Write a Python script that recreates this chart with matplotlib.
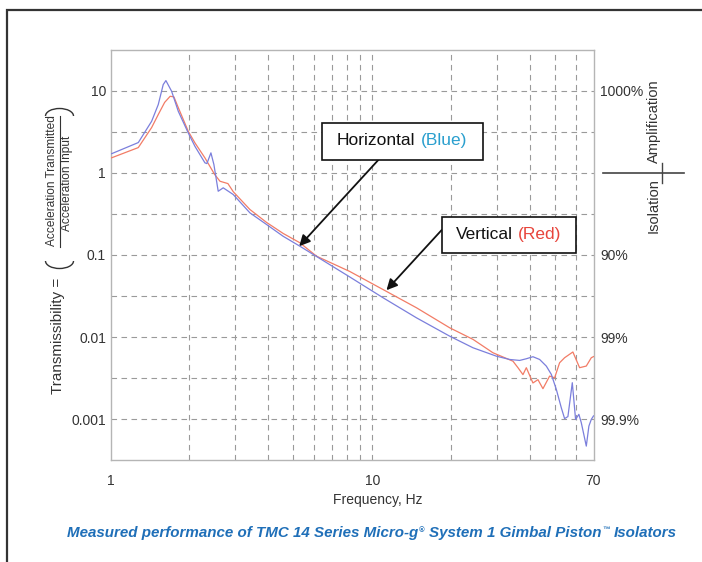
import numpy as np
import matplotlib
matplotlib.use("Agg")
import matplotlib.pyplot as plt
from matplotlib.lines import Line2D
from matplotlib.patches import Rectangle, Arc
from matplotlib.ticker import NullLocator, FixedLocator

plt.rcParams['font.family'] = ['Liberation Sans', 'DejaVu Sans']

# ---------------- data ----------------
blue_freq = [1.0, 1.013, 1.277, 1.436, 1.522, 1.590, 1.628, 1.712, 1.815, 1.981, 2.101,
             2.295, 2.335, 2.419, 2.483, 2.579, 2.695, 2.943, 3.408, 3.947, 4.566,
             5.288, 8.206, 10.99, 14.75, 19.76, 24.25, 29.79, 33.49, 36.56, 38.77,
             41.09, 43.59, 46.23, 48.31, 50.48, 52.74, 54.29, 55.89, 58.09, 59.79,
             61.55, 62.87, 65.70, 67.22, 68.65, 70.0]
blue_trans = [1.70, 1.717, 2.337, 4.244, 6.774, 11.87, 13.27, 9.83, 5.617, 3.066, 2.106,
              1.323, 1.297, 1.751, 1.262, 0.597, 0.657, 0.545, 0.326, 0.235, 0.169,
              0.128, 0.0540, 0.0302, 0.0172, 0.01028, 0.00743, 0.00587, 0.00535, 0.00521, 0.00546,
              0.00578, 0.00535, 0.00444, 0.00352, 0.00231, 0.00138, 0.00102, 0.00108, 0.00279, 0.000997,
              0.00115, 0.000909, 0.000472, 0.000827, 0.000997, 0.00110]

red_freq = [1.0, 1.013, 1.277, 1.436, 1.522, 1.61, 1.69, 1.747, 1.815, 1.981, 2.101,
            2.295, 2.5, 2.62, 2.809, 2.943, 3.408, 3.947, 4.566, 5.288, 6.124,
            8.206, 10.99, 14.75, 19.76, 24.25, 28.9, 34.47, 36.02, 37.64, 38.77,
            41.09, 42.94, 44.87, 47.59, 49.73, 51.95, 54.29, 58.39, 61.94, 65.70,
            68.65, 70.0]
red_trans = [1.51, 1.53, 2.03, 3.56, 5.12, 7.2, 8.55, 8.4, 6.23, 3.21, 2.32,
             1.52, 0.954, 0.79, 0.74, 0.59, 0.358, 0.249, 0.183, 0.141, 0.0967,
             0.063, 0.038, 0.0228, 0.013, 0.0094, 0.00646, 0.0051, 0.00425, 0.0035, 0.00425,
             0.00277, 0.00304, 0.00236, 0.00336, 0.0032, 0.00488, 0.00562, 0.0066, 0.00425, 0.00445,
             0.00562, 0.0058]

x_tick_vals = [1, 10, 70]
x_tick_labels = ['1', '10', '70']
x_grid_vals = [2, 3, 4, 5, 6, 7, 8, 9, 10, 20, 30, 40, 50, 60]
y_tick_vals = [0.001, 0.01, 0.1, 1, 10]
y_tick_labels = ['0.001', '0.01', '0.1', '1', '10']
y_grid_exps = [-3.0, -2.5, -2.0, -1.5, -1.0, -0.5, 0.0, 0.5, 1.0]
right_tick_vals = [10, 0.1, 0.01, 0.001]
right_tick_labels = ['1000%', '90%', '99%', '99.9%']

# ---------------- figure ----------------
W, H = 702, 562
fig = plt.figure(figsize=(W / 100, H / 100), dpi=100)

def fx(x):
    return x / W

def fy(y):
    return 1 - y / H

ax_l, ax_r, ax_t, ax_b = 110.5, 593.5, 49.6, 460.4
ax = fig.add_axes([fx(ax_l), fy(ax_b), (ax_r - ax_l) / W, (ax_b - ax_t) / H])
ax.set_xscale('log')
ax.set_yscale('log')
ax.set_xlim(1, 70)
ax.set_ylim(10 ** -3.5, 10 ** 1.5)

grid_kw = dict(color='#9a9a9a', lw=0.8, dashes=(5, 4), zorder=1)
for g in x_grid_vals:
    ax.axvline(g, **grid_kw)
for e in y_grid_exps:
    ax.axhline(10 ** e, **grid_kw)

ax.plot(red_freq, red_trans, color='#f27c66', lw=0.9, zorder=3)
ax.plot(blue_freq, blue_trans, color='#7b7fdc', lw=0.9, zorder=4)

ax.xaxis.set_major_locator(FixedLocator(x_tick_vals))
ax.set_xticklabels(x_tick_labels)
ax.xaxis.set_minor_locator(NullLocator())
ax.yaxis.set_major_locator(FixedLocator(y_tick_vals))
ax.set_yticklabels(y_tick_labels)
ax.yaxis.set_minor_locator(NullLocator())
ax.tick_params(axis='x', length=0, pad=10, labelsize=10, labelcolor='#333333')
ax.tick_params(axis='y', length=0, pad=3.2, labelsize=10, labelcolor='#333333')
for s in ax.spines.values():
    s.set_color('#b5b5b5')
    s.set_linewidth(1.0)

ax2 = ax.twinx()
ax2.set_yscale('log')
ax2.set_ylim(ax.get_ylim())
ax2.yaxis.set_major_locator(FixedLocator(right_tick_vals))
ax2.set_yticklabels(right_tick_labels)
ax2.yaxis.set_minor_locator(NullLocator())
ax2.tick_params(axis='y', length=0, pad=4.7, labelsize=10, labelcolor='#333333')
for s in ax2.spines.values():
    s.set_visible(False)

txt_col = '#333333'

# x label
fig.text(fx(378), fy(500), 'Frequency, Hz', ha='center', va='center', fontsize=10, color=txt_col)

# y label built from pieces
fig.text(fx(58), fy(336), 'Transmissibility =', rotation=90, ha='center', va='center',
         fontsize=11, color=txt_col)
fig.text(fx(52.5), fy(181), 'Acceleration Transmitted', rotation=90, ha='center', va='center',
         fontsize=8.6, color=txt_col)
fig.text(fx(67), fy(183), 'Acceleration Input', rotation=90, ha='center', va='center',
         fontsize=8.6, color=txt_col)
fig.add_artist(Line2D([fx(59.5), fx(59.5)], [fy(116), fy(247)], color=txt_col, lw=0.8,
                      transform=fig.transFigure))

def paren(cx, cy, w, h, theta1, theta2):
    fig.add_artist(Arc((fx(cx), fy(cy)), w / W, h / H, theta1=theta1, theta2=theta2,
                       color=txt_col, lw=1.0, transform=fig.transFigure))
paren(59.5, 261, 28, 15, 180, 360)   # opening paren (bottom, bulge downwards)
paren(59.5, 116, 28, 15, 0, 180)     # closing paren (top, bulge upwards)

# right side Amplification / Isolation
fig.text(fx(654), fy(121), 'Amplification', rotation=90, ha='center', va='center',
         fontsize=10.5, color=txt_col)
fig.text(fx(654), fy(206), 'Isolation', rotation=90, ha='center', va='center',
         fontsize=10.5, color=txt_col)
fig.add_artist(Line2D([fx(603), fx(684)], [fy(173.3), fy(173.3)], color='#444444', lw=1.2,
                      transform=fig.transFigure))
fig.add_artist(Line2D([fx(662), fx(662)], [fy(163), fy(183)], color='#444444', lw=1.0,
                      transform=fig.transFigure))

# outer frame
fig.add_artist(Line2D([fx(6.5), fx(6.5), fx(702)], [fy(562), fy(10), fy(10)], color='#333333',
                      lw=1.6, transform=fig.transFigure, solid_joinstyle='miter'))

# rich text helper
renderer = fig.canvas.get_renderer()

def measure(s, **kw):
    t = fig.text(0, 0, s, **kw)
    w = t.get_window_extent(renderer).width
    t.remove()
    return w

def place_pieces(pieces, cx, baseline):
    texts = []
    for s, kw, gap, dy in pieces:
        t = fig.text(0, 0, s, ha='left', va='baseline', **kw)
        texts.append((t, gap, dy))
    widths = [t.get_window_extent(renderer).width for t, _, _ in texts]
    total = sum(widths) + sum(g for _, g, _ in texts)
    x = cx - total / 2
    for (t, gap, dy), w in zip(texts, widths):
        x += gap
        t.set_position((fx(x), fy(baseline - dy)))
        x += w

# annotation boxes
box_kw = dict(facecolor='white', edgecolor='#111111', lw=1.2, transform=fig.transFigure, zorder=10)
fig.add_artist(Rectangle((fx(321.7), fy(160)), (483.3 - 321.7) / W, (160 - 123.3) / H, **box_kw))
fig.add_artist(Rectangle((fx(441.7), fy(252.7)), (576 - 441.7) / W, (252.7 - 216.7) / H, **box_kw))

box_fs = 12.5
sp = measure('x x', fontsize=box_fs) - measure('xx', fontsize=box_fs)
place_pieces([('Horizontal', dict(fontsize=box_fs, color='#111111', zorder=11), 0, 0),
              ('(Blue)', dict(fontsize=box_fs, color='#2a9fce', zorder=11), sp, 0)],
             402, 145)
place_pieces([('Vertical', dict(fontsize=box_fs, color='#111111', zorder=11), 0, 0),
              ('(Red)', dict(fontsize=box_fs, color='#e8453c', zorder=11), sp, 0)],
             509, 239.3)

arrow_kw = dict(arrowstyle='-|>', color='#111111', lw=1.3, mutation_scale=16, shrinkA=0, shrinkB=0)
ax.annotate('', xy=(5.26, 0.128), xycoords='data',
            xytext=(fx(378.3), fy(160)), textcoords='figure fraction',
            arrowprops=arrow_kw, zorder=9, annotation_clip=False)
ax.annotate('', xy=(11.33, 0.0373), xycoords='data',
            xytext=(fx(441.7), fy(230)), textcoords='figure fraction',
            arrowprops=arrow_kw, zorder=9, annotation_clip=False)

# caption
cap_fs = 10.9
cap_kw = dict(fontsize=cap_fs, color='#1f6fb8', fontweight='bold', fontstyle='italic')
cap_small = dict(fontsize=cap_fs * 0.5, color='#1f6fb8', fontweight='bold', fontstyle='italic')
csp = measure('x x', **cap_kw) - measure('xx', **cap_kw)
place_pieces([('Measured performance of TMC 14 Series Micro-g', cap_kw, 0, 0),
              ('\u00ae', cap_small, 0.5, 5),
              ('System 1 Gimbal Piston', cap_kw, csp, 0),
              ('\u2122', cap_small, 0.5, 5),
              ('Isolators', cap_kw, csp, 0)],
             372, 537)

fig.savefig('out.png', dpi=100)
